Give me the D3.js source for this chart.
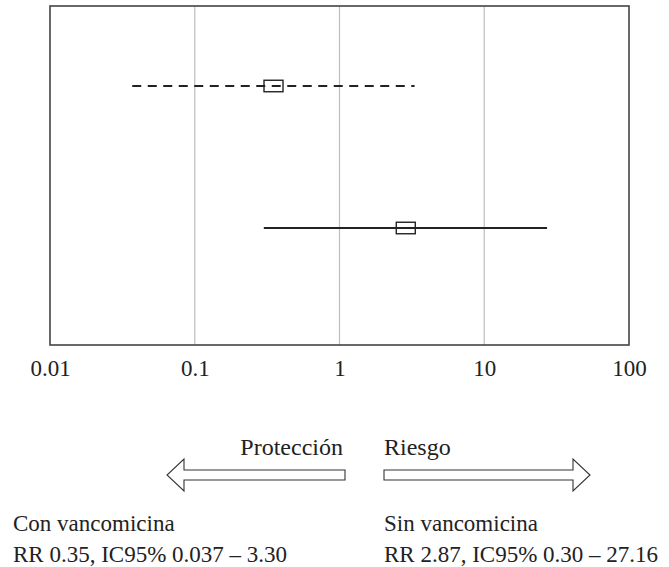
<!DOCTYPE html>
<html>
<head>
<meta charset="utf-8">
<script src="https://cdn.jsdelivr.net/npm/d3@7"></script>
<style>
  html, body { margin: 0; padding: 0; background: #fff; }
  svg { display: block; }
  text { font-family: "Liberation Serif", "DejaVu Serif", serif; fill: #222; }
</style>
</head>
<body>
<svg id="chart" width="669" height="567"></svg>
<script>
// Relative risk estimates with 95% confidence intervals
const groups = ["Con vancomicina", "Sin vancomicina"];
const rr = [0.35, 2.87];
const ciLow = [0.037, 0.30];
const ciHigh = [3.30, 27.16];
const summaries = ["RR 0.35, IC95% 0.037 – 3.30", "RR 2.87, IC95% 0.30 – 27.16"];

// Log axis ticks
const tickValues = [0.01, 0.1, 1, 10, 100];
const tickLabels = ["0.01", "0.1", "1", "10", "100"];
const gridValues = [0.1, 1, 10];

// Direction labels under the axis
const directionLabels = ["Protección", "Riesgo"];

const svg = d3.select("#chart");

const plot = { left: 50, right: 629, top: 6, bottom: 345 };

const x = d3.scaleLog()
  .domain([tickValues[0], tickValues[tickValues.length - 1]])
  .range([plot.left, plot.right]);

const y = d3.scalePoint()
  .domain(groups)
  .range([plot.top + 80, plot.top + 222]);

// Vertical reference lines at each decade
svg.append("g")
  .selectAll("line")
  .data(gridValues)
  .join("line")
  .attr("x1", d => x(d)).attr("x2", d => x(d))
  .attr("y1", plot.top).attr("y2", plot.bottom)
  .attr("stroke", "#bdbdbd")
  .attr("stroke-width", 1.2);

// Plot frame
svg.append("rect")
  .attr("x", plot.left)
  .attr("y", plot.top)
  .attr("width", plot.right - plot.left)
  .attr("height", plot.bottom - plot.top)
  .attr("fill", "none")
  .attr("stroke", "#444")
  .attr("stroke-width", 1.6);

// Tick labels via a bottom axis with the domain path and tick marks hidden
const axis = d3.axisBottom(x)
  .tickValues(tickValues)
  .tickFormat((d, i) => tickLabels[i])
  .tickSize(0)
  .tickPadding(0);

const axisG = svg.append("g")
  .attr("transform", `translate(0, ${plot.bottom})`)
  .call(axis);
axisG.select(".domain").remove();
axisG.selectAll("text")
  .attr("dy", null)
  .attr("y", 31)
  .attr("font-size", 23)
  .attr("font-family", "Liberation Serif, serif")
  .attr("fill", "#222");

// Confidence interval lines
const rows = groups.map((g, i) => ({ g, i, rr: rr[i], lo: ciLow[i], hi: ciHigh[i] }));

svg.append("g")
  .selectAll("line")
  .data(rows)
  .join("line")
  .attr("x1", d => x(d.lo))
  .attr("x2", d => x(d.hi))
  .attr("y1", d => y(d.g))
  .attr("y2", d => y(d.g))
  .attr("stroke", "#222")
  .attr("stroke-width", 2)
  .attr("stroke-dasharray", d => d.i === 0 ? "9,6.5" : null);

// Point estimate markers
const boxW = 19, boxH = 11.5;
svg.append("g")
  .selectAll("rect")
  .data(rows)
  .join("rect")
  .attr("x", d => x(d.rr) - boxW / 2)
  .attr("y", d => y(d.g) - boxH / 2)
  .attr("width", boxW)
  .attr("height", boxH)
  .attr("fill", "none")
  .attr("stroke", "#222")
  .attr("stroke-width", 1.4);

// Direction arrows
const arrowY = 475, shaftH = 10, headH = 32, headL = 17;
function arrowPath(from, to) {
  const dir = Math.sign(to - from);
  const back = to - dir * headL;
  return [
    [from, arrowY - shaftH / 2],
    [back, arrowY - shaftH / 2],
    [back, arrowY - headH / 2],
    [to, arrowY],
    [back, arrowY + headH / 2],
    [back, arrowY + shaftH / 2],
    [from, arrowY + shaftH / 2]
  ];
}
const arrows = [
  { from: 345, to: 167 },
  { from: 384, to: 590 }
];
svg.append("g")
  .selectAll("path")
  .data(arrows)
  .join("path")
  .attr("d", d => d3.line()(arrowPath(d.from, d.to)) + "Z")
  .attr("fill", "#fff")
  .attr("stroke", "#333")
  .attr("stroke-width", 1.1);

svg.append("text")
  .attr("x", 343).attr("y", 455)
  .attr("text-anchor", "end")
  .attr("font-size", 24)
  .text(directionLabels[0]);
svg.append("text")
  .attr("x", 384).attr("y", 455)
  .attr("font-size", 24)
  .text(directionLabels[1]);

// Group summaries
const summaryX = [13, 384];
groups.forEach((g, i) => {
  svg.append("text")
    .attr("x", summaryX[i]).attr("y", 531)
    .attr("font-size", 23)
    .text(g);
  svg.append("text")
    .attr("x", summaryX[i]).attr("y", 562)
    .attr("font-size", 23)
    .text(summaries[i]);
});
</script>
</body>
</html>
